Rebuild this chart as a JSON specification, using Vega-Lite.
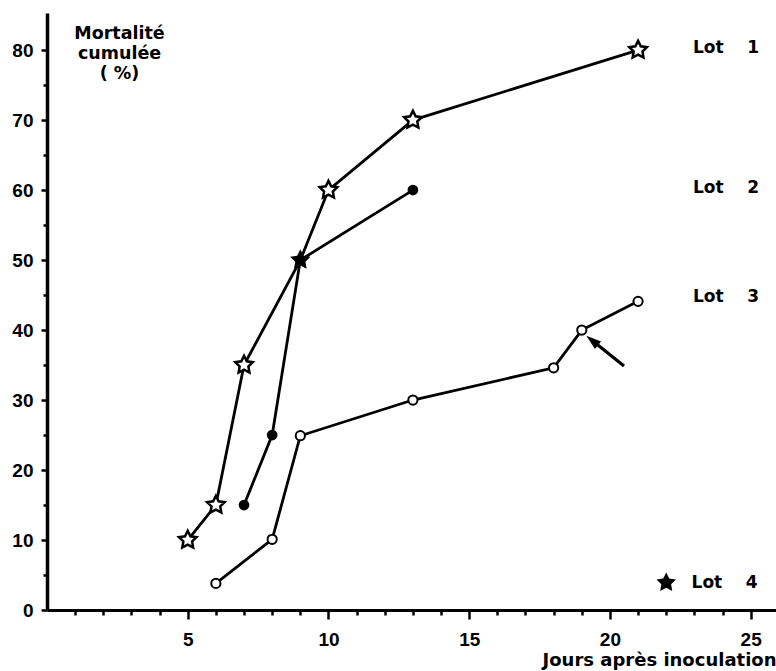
{
  "$schema": "https://vega.github.io/schema/vega-lite/v6.json",
  "width": 729,
  "height": 597,
  "padding": {"left": 47, "top": 13, "right": 0, "bottom": 61},
  "autosize": {"type": "none"},
  "background": "white",
  "config": {"view": {"stroke": null}},
  "datasets": {
    "series": [
      {"lot": "Lot 1", "jour": 5, "mort": 10, "marker": "open star"},
      {"lot": "Lot 1", "jour": 6, "mort": 15, "marker": "open star"},
      {"lot": "Lot 1", "jour": 7, "mort": 35, "marker": "open star"},
      {"lot": "Lot 1", "jour": 9, "mort": 50, "marker": "filled star"},
      {"lot": "Lot 1", "jour": 10, "mort": 60, "marker": "open star"},
      {"lot": "Lot 1", "jour": 13, "mort": 70, "marker": "open star"},
      {"lot": "Lot 1", "jour": 21, "mort": 80, "marker": "open star"},
      {"lot": "Lot 2", "jour": 7, "mort": 15, "marker": "filled circle"},
      {"lot": "Lot 2", "jour": 8, "mort": 25, "marker": "filled circle"},
      {"lot": "Lot 2", "jour": 9, "mort": 50, "marker": "none"},
      {"lot": "Lot 2", "jour": 13, "mort": 60, "marker": "filled circle"},
      {"lot": "Lot 3", "jour": 6, "mort": 3.8, "marker": "open circle"},
      {"lot": "Lot 3", "jour": 8, "mort": 10.1, "marker": "open circle"},
      {"lot": "Lot 3", "jour": 9, "mort": 24.9, "marker": "open circle"},
      {"lot": "Lot 3", "jour": 13, "mort": 30, "marker": "open circle"},
      {"lot": "Lot 3", "jour": 18, "mort": 34.6, "marker": "open circle"},
      {"lot": "Lot 3", "jour": 19, "mort": 40, "marker": "open circle"},
      {"lot": "Lot 3", "jour": 21, "mort": 44.1, "marker": "open circle"}
    ],
    "labels": [
      {"text": "Lot\u00a0\u00a0\u00a0\u00a01", "jour": 22.95, "mort": 80.3},
      {"text": "Lot\u00a0\u00a0\u00a0\u00a02", "jour": 22.95, "mort": 60.3},
      {"text": "Lot\u00a0\u00a0\u00a0\u00a03", "jour": 22.95, "mort": 44.7},
      {"text": "Lot\u00a0\u00a0\u00a0\u00a04", "jour": 22.9, "mort": 3.9}
    ],
    "legendStar": [{"jour": 22.0, "mort": 3.9}],
    "arrow": [{"jour": 20.5, "mort": 34.86, "jour2": 19.37, "mort2": 38.5}]
  },
  "encoding": {
    "x": {
      "field": "jour", "type": "quantitative",
      "scale": {"domain": [0, 25.9], "nice": false, "zero": false},
      "axis": {
        "values": [1,2,3,4,5,6,7,8,9,10,11,12,13,14,15,16,17,18,19,20,21,22,23,24,25],
        "labelExpr": "datum.value % 5 === 0 ? datum.label : ''",
        "grid": false,
        "domainColor": "black", "domainWidth": 3,
        "tickColor": "black", "tickWidth": 2.5,
        "tickSize": {"condition": {"test": "datum.value % 5 === 0", "value": 9}, "value": 5},
        "labelFont": "Liberation Sans", "labelFontWeight": "bold", "labelFontSize": 19,
        "labelColor": "black", "labelBaseline": "middle", "labelPadding": 20,
        "labelFlush": false,
        "title": "Jours après inoculation",
        "titleFont": "DejaVu Sans", "titleFontWeight": "bold", "titleFontSize": 18,
        "titleColor": "black",
        "titleAnchor": "end", "titleAlign": "right", "titleBaseline": "alphabetic",
        "titleX": 729, "titleY": 55
      }
    },
    "y": {
      "field": "mort", "type": "quantitative",
      "scale": {"domain": [0, 85.3], "nice": false, "zero": false},
      "axis": {
        "values": [0,5,10,15,20,25,30,35,40,45,50,55,60,65,70,75,80],
        "labelExpr": "datum.value % 10 === 0 ? datum.label : ''",
        "grid": false,
        "domainColor": "black", "domainWidth": 3.5,
        "tickColor": "black", "tickWidth": 2.5,
        "tickSize": {"condition": {"test": "datum.value % 10 === 0", "value": 6}, "value": 4},
        "labelFont": "Liberation Sans", "labelFontWeight": "bold", "labelFontSize": 19,
        "labelColor": "black", "labelPadding": 8,
        "labelFlush": false,
        "title": ["Mortalité", "cumulée", "( %)"],
        "titleFont": "DejaVu Sans", "titleFontWeight": "bold", "titleFontSize": 17.5,
        "titleColor": "black", "titleAngle": 0, "titleAlign": "center",
        "titleBaseline": "alphabetic", "titleLineHeight": 20,
        "titleX": 72, "titleY": 25
      }
    }
  },
  "layer": [
    {
      "data": {"name": "series"},
      "mark": {"type": "line", "color": "black", "strokeWidth": 2.8},
      "encoding": {"detail": {"field": "lot"}, "order": {"field": "jour", "type": "quantitative"}}
    },
    {
      "data": {"name": "arrow"},
      "mark": {"type": "rule", "color": "black", "strokeWidth": 3.2},
      "encoding": {"x2": {"field": "jour2"}, "y2": {"field": "mort2"}}
    },
    {
      "data": {"name": "arrow"},
      "mark": {"type": "point", "shape": "M0,-1L0.65,1L-0.65,1Z", "filled": true, "color": "black", "opacity": 1, "size": 225, "angle": -51},
      "encoding": {"x": {"field": "jour2", "type": "quantitative"}, "y": {"field": "mort2", "type": "quantitative"}}
    },
    {
      "data": {"name": "series"},
      "transform": [{"filter": "datum.marker === 'open star'"}],
      "mark": {"type": "point", "shape": "M0,-1L0.294,-0.405L0.951,-0.309L0.476,0.155L0.588,0.809L0,0.5L-0.588,0.809L-0.476,0.155L-0.951,-0.309L-0.294,-0.405Z", "filled": false, "fill": "white", "fillOpacity": 1, "stroke": "black", "strokeWidth": 2.5, "opacity": 1, "size": 340}
    },
    {
      "data": {"name": "series"},
      "transform": [{"filter": "datum.marker === 'filled star'"}],
      "mark": {"type": "point", "shape": "M0,-1L0.294,-0.405L0.951,-0.309L0.476,0.155L0.588,0.809L0,0.5L-0.588,0.809L-0.476,0.155L-0.951,-0.309L-0.294,-0.405Z", "filled": true, "color": "black", "opacity": 1, "size": 460}
    },
    {
      "data": {"name": "legendStar"},
      "mark": {"type": "point", "shape": "M0,-1L0.294,-0.405L0.951,-0.309L0.476,0.155L0.588,0.809L0,0.5L-0.588,0.809L-0.476,0.155L-0.951,-0.309L-0.294,-0.405Z", "filled": true, "color": "black", "opacity": 1, "size": 420}
    },
    {
      "data": {"name": "series"},
      "transform": [{"filter": "datum.marker === 'filled circle'"}],
      "mark": {"type": "point", "shape": "circle", "filled": true, "color": "black", "opacity": 1, "size": 115}
    },
    {
      "data": {"name": "series"},
      "transform": [{"filter": "datum.marker === 'open circle'"}],
      "mark": {"type": "point", "shape": "circle", "filled": false, "fill": "white", "fillOpacity": 1, "stroke": "black", "strokeWidth": 2, "opacity": 1, "size": 85}
    },
    {
      "data": {"name": "labels"},
      "mark": {"type": "text", "align": "left", "baseline": "middle", "font": "DejaVu Sans", "fontWeight": "bold", "fontSize": 17, "color": "black"},
      "encoding": {"text": {"field": "text"}}
    }
  ]
}
